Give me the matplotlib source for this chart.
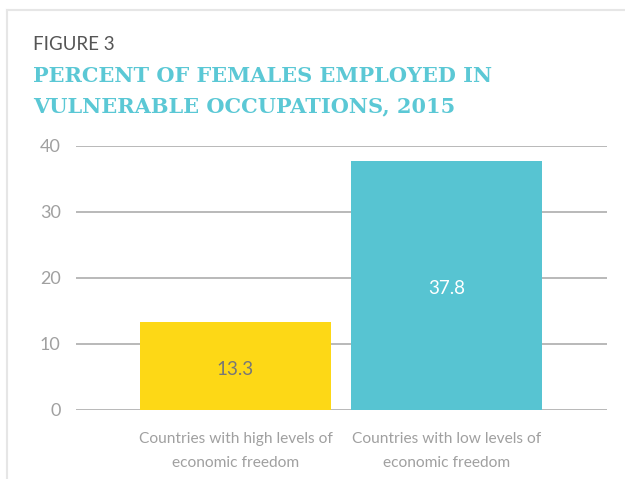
import matplotlib
matplotlib.use("Agg")
import matplotlib.pyplot as plt
from matplotlib.lines import Line2D

categories = ["Countries with high levels of\neconomic freedom",
              "Countries with low levels of\neconomic freedom"]
values = [13.3, 37.8]
value_labels = ["13.3", "37.8"]
yticks = [0, 10, 20, 30, 40]

W, H = 625, 479
fig = plt.figure(figsize=(W / 100, H / 100), dpi=100)
fig.patch.set_facecolor("white")

def fx(px):
    return px / W

def fy(py):
    return 1 - py / H

# frame border (top and left)
fig.add_artist(Line2D([fx(7), fx(625)], [fy(10), fy(10)], color="#e6e6e6", lw=1.5))
fig.add_artist(Line2D([fx(7), fx(7)], [fy(10), fy(479)], color="#e6e6e6", lw=1.5))

ax = fig.add_axes([fx(76), fy(410), fx(607) - fx(76), fy(146) - fy(410)])
ax.set_ylim(0, 40)
ax.set_xlim(-0.754, 1.757)

x = list(range(len(values)))
colors = ["#fdd816", "#57c4d2"]
bars = ax.bar(x, values, width=0.903, color=colors, zorder=3)

for yv in yticks:
    ax.axhline(yv, color="#a6a6a6", lw=1.1, zorder=1)

label_colors = ["#777777", "white"]
for xi, v, lab, c in zip(x, values, value_labels, label_colors):
    ax.text(xi, v / 2 - 0.5, lab, ha="center", va="center", color=c,
            fontsize=13.5, family="Lato", zorder=4)

for s in ax.spines.values():
    s.set_visible(False)
ax.set_yticks(yticks)
ax.set_yticklabels([str(t) for t in yticks], fontsize=13, color="#a0a0a0",
                   family="Lato")
ax.tick_params(axis="y", length=0, pad=11)
ax.set_xticks(x)
ax.set_xticklabels(categories, fontsize=11.2, color="#a0a0a0", family="Lato",
                   linespacing=1.9)
ax.tick_params(axis="x", length=0, pad=16)

fig.text(fx(33), fy(50), "FIGURE 3", fontsize=13.5, color="#555555",
         family="Lato", va="baseline")
fig.text(fx(33), fy(82), "PERCENT OF FEMALES EMPLOYED IN", fontsize=15,
         color="#5bc8d5", family="DejaVu Serif", fontweight="bold", va="baseline")
fig.text(fx(33), fy(112), "VULNERABLE OCCUPATIONS, 2015", fontsize=15,
         color="#5bc8d5", family="DejaVu Serif", fontweight="bold", va="baseline")

fig.savefig("out.png", dpi=100)
